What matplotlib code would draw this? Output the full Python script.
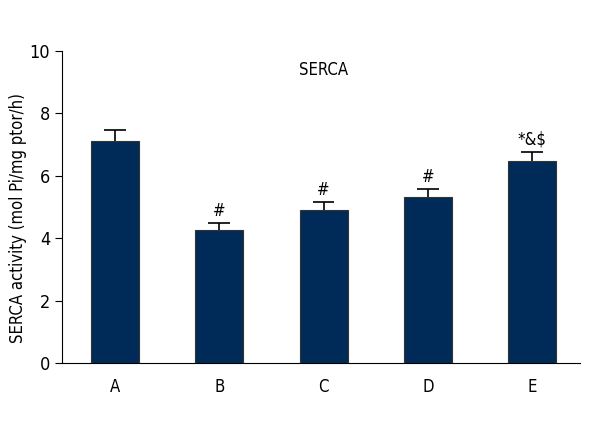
import numpy as np
import matplotlib.pyplot as plt

plt.rcParams['font.family'] = ['DejaVu Sans']
plt.rcParams['font.stretch'] = 'condensed'

groups = ["A", "B", "C", "D", "E"]
means = [7.12, 4.27, 4.91, 5.32, 6.47]
errs = [0.36, 0.22, 0.25, 0.26, 0.29]
marks = ["", "#", "#", "#", "*&$"]

fig = plt.figure(figsize=(6, 4.4), dpi=100)
ax = fig.add_axes([0.103, 0.175, 0.864, 0.709])

x = np.arange(len(groups))
tops = np.array(means) + np.array(errs)
ax.bar(x, means, width=0.46, color="#002b59", edgecolor="#333333", linewidth=0.8, zorder=2)
# upper-only error bars with cap at the top
ax.vlines(x, means, tops, color="black", linewidth=1.2, zorder=1)
ax.hlines(tops, x - 0.105, x + 0.105, color="black", linewidth=1.2, zorder=1)

for xi, t, tp in zip(x, marks, tops):
    if t:
        ax.text(xi, tp + 0.1, t, ha="center", va="bottom", fontsize=12)

ax.text(2, 9.4, "SERCA", ha="center", va="center", fontsize=12)

ax.set_xlim(-0.508, 4.46)
ax.set_ylim(0, 10)
ax.set_yticks([0, 2, 4, 6, 8, 10])
ax.set_xticks(x)
ax.set_xticklabels(groups)
ax.tick_params(axis="x", length=0, pad=11, labelsize=12)
ax.tick_params(axis="y", length=5, labelsize=13)
ax.set_ylabel("SERCA activity (mol Pi/mg ptor/h)", fontsize=12)
ax.yaxis.set_label_coords(-0.068, 0.465)
ax.spines["top"].set_visible(False)
ax.spines["right"].set_visible(False)

fig.savefig("out.png")
